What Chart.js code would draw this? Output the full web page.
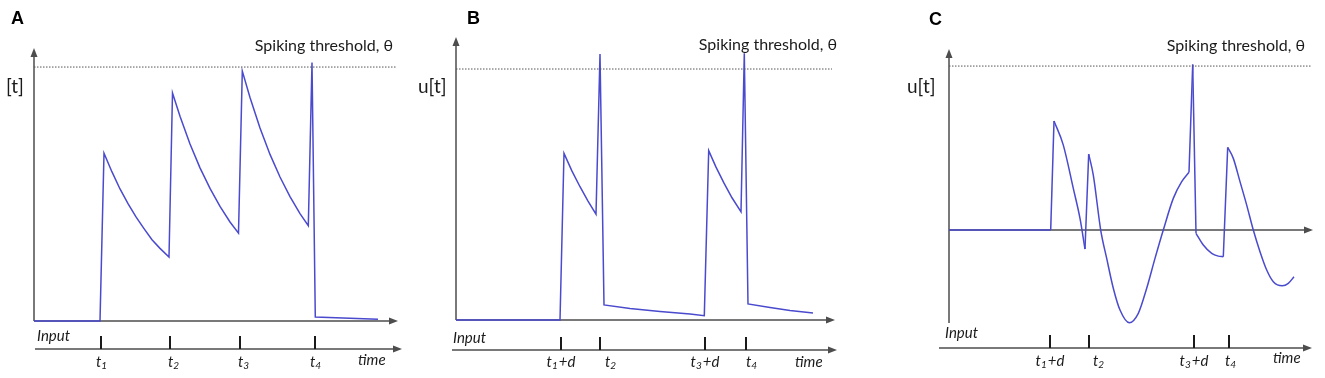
<!DOCTYPE html>
<html>
<head>
<meta charset="utf-8">
<script src="https://cdn.jsdelivr.net/npm/chart.js@4.4.1/dist/chart.umd.min.js"></script>
<style>
  html, body { margin: 0; padding: 0; background: #fff; }
  #wrap { position: relative; width: 1325px; height: 378px; overflow: hidden; }
  #wrap canvas { position: absolute; left: 0; top: 0; }
</style>
</head>
<body>
<div id="wrap">
  <canvas id="panelA" width="1325" height="378"></canvas>
  <canvas id="panelB" width="1325" height="378"></canvas>
  <canvas id="panelC" width="1325" height="378"></canvas>
</div>
<script>
// ---- data (time measured from the u axis, membrane potential u relative to threshold) ----
var threshold = 1;

// A: plain leaky integrate, four inputs
var timeA = [0, 66, 70, 78, 86, 94, 102, 110, 118, 126, 135,
             138.5, 146, 156, 166, 176, 186, 196, 204.5,
             208.3, 216, 226, 236, 246, 256, 266, 274.3,
             278, 281.3, 344];
var uA    = [0, 0, 0.661, 0.587, 0.52, 0.462, 0.41, 0.364, 0.32, 0.286, 0.252,
             0.898, 0.806, 0.697, 0.603, 0.522, 0.451, 0.39, 0.346,
             0.984, 0.88, 0.76, 0.656, 0.567, 0.49, 0.423, 0.375,
             1.018, 0.016, 0.007];
var tickTimesA  = [67, 136, 206, 281];
var tickLabelsA = ['t1', 't2', 't3', 't4'];

// B: delayed inputs
var timeB = [0, 104, 108, 116, 124, 132, 140, 144, 148, 174, 204, 234, 248.3,
             252.7, 260, 268, 276, 285, 288.3, 292, 314, 334, 357];
var uB    = [0, 0, 0.664, 0.593, 0.531, 0.474, 0.422, 1.06, 0.06, 0.046, 0.034, 0.024, 0.017,
             0.675, 0.609, 0.545, 0.487, 0.431, 1.063, 0.064, 0.05, 0.038, 0.028];
var tickTimesB  = [105, 144, 249, 290];
var tickLabelsB = ['t1+d', 't2', 't3+d', 't4'];

// C: resonating neuron
var timeC = [0, 101.7, 105, 114.3, 124.3, 131, 136,
             139.7, 144.3, 151.7, 157.7, 164.3, 171, 180.3, 189.3, 197.7, 206, 214.3, 224.3, 232.7, 240,
             243.7, 247, 254.3, 262.7, 269.3, 274.3,
             278.7, 284.3, 291, 297.7, 304.3, 311, 317.7, 324.3, 333.3, 339.3, 345];
var uC    = [0, 0, 0.665, 0.518, 0.254, 0.071, -0.116,
             0.463, 0.335, 0, -0.173, -0.355, -0.488, -0.565, -0.508, -0.355, -0.173, 0, 0.193, 0.295, 0.352,
             1.01, -0.02, -0.091, -0.142, -0.159, -0.163,
             0.504, 0.437, 0.295, 0.152, 0, -0.132, -0.244, -0.315, -0.34, -0.325, -0.285];
// indices where the trace jumps straight to the next point (input arrivals / spike)
var jumpsC = [1, 6, 20, 21, 26];
var tickTimesC  = [101, 140, 245, 280];
var tickLabelsC = ['t1+d', 't2', 't3+d', 't4'];

var TRACE = 'rgb(74,74,206)';
var AXIS = '#4d4d4d';
var INK = '#1a1a1a';
var FONT = 'Lato, "Open Sans", sans-serif';

function seg(ctx, x1, y1, x2, y2) {
  ctx.beginPath(); ctx.moveTo(x1, y1); ctx.lineTo(x2, y2); ctx.stroke();
}
function arrowRight(ctx, x, y) {
  ctx.beginPath(); ctx.moveTo(x, y); ctx.lineTo(x - 9, y - 3.5); ctx.lineTo(x - 9, y + 3.5); ctx.closePath(); ctx.fill();
}
function arrowUp(ctx, x, y) {
  ctx.beginPath(); ctx.moveTo(x, y); ctx.lineTo(x - 3.5, y + 9); ctx.lineTo(x + 3.5, y + 9); ctx.closePath(); ctx.fill();
}

// italic t with subscript index, e.g. "t3+d"
function tickText(ctx, label, cx, cy) {
  var head = label.charAt(0), sub = label.charAt(1), rest = label.slice(2);
  var big = 'italic 15px ' + FONT, small = 'italic 10px ' + FONT;
  ctx.font = big;  var w1 = ctx.measureText(head).width, w3 = ctx.measureText(rest).width;
  ctx.font = small; var w2 = ctx.measureText(sub).width + 1;
  var x = cx - (w1 + w2 + w3) / 2;
  ctx.textAlign = 'left'; ctx.textBaseline = 'middle';
  ctx.font = big;   ctx.fillText(head, x, cy);
  ctx.font = small; ctx.fillText(sub, x + w1, cy + 4);
  ctx.font = big;   ctx.fillText(rest, x + w1 + w2, cy);
}

// split a trace into straight jumps and smooth runs
function tracePieces(times, values, jumps) {
  var cuts = [0, times.length - 1];
  jumps.forEach(function(j) { cuts.push(j, j + 1); });
  cuts = cuts.filter(function(v, i, a) { return a.indexOf(v) === i; }).sort(function(a, b) { return a - b; });
  var pieces = [];
  for (var k = 0; k < cuts.length - 1; k++) {
    var pts = [];
    for (var i = cuts[k]; i <= cuts[k + 1]; i++) pts.push({ x: times[i], y: values[i] });
    pieces.push(pts);
  }
  return pieces;
}

function makePanel(id, times, values, jumps, ticks, labels, cfg) {
  var sketch = {
    id: 'sketch' + id,
    beforeDatasetsDraw: function(chart) {
      var ctx = chart.ctx, a = chart.chartArea;
      var xs = chart.scales.x, ys = chart.scales.y;
      var y0 = ys.getPixelForValue(0);
      ctx.save();
      ctx.strokeStyle = AXIS; ctx.fillStyle = AXIS; ctx.lineWidth = 1.5;
      seg(ctx, a.left, a.bottom, a.left, a.top + 6);
      arrowUp(ctx, a.left, a.top);
      seg(ctx, a.left, y0, a.right - 6, y0);
      arrowRight(ctx, a.right, y0);
      seg(ctx, cfg.inLeft, cfg.inY, cfg.inRight - 6, cfg.inY);
      arrowRight(ctx, cfg.inRight, cfg.inY);
      ctx.strokeStyle = '#1a1a1a'; ctx.lineWidth = 2;
      ticks.forEach(function(t) {
        var px = Math.round(xs.getPixelForValue(t));
        seg(ctx, px, cfg.inY - 13, px, cfg.inY);
      });
      ctx.restore();
    },
    afterDraw: function(chart) {
      var ctx = chart.ctx, xs = chart.scales.x;
      ctx.save();
      ctx.fillStyle = '#000';
      ctx.textBaseline = 'middle'; ctx.textAlign = 'left';
      ctx.font = 'bold 18px "Liberation Sans", Arial, sans-serif';
      ctx.fillText(id, cfg.letter[0], cfg.letter[1]);
      ctx.fillStyle = INK;
      ctx.font = '19px ' + FONT;
      ctx.fillText(cfg.yTitle, cfg.yTitlePos[0], cfg.yTitlePos[1]);
      ctx.font = '16px ' + FONT; ctx.textAlign = 'right';
      ctx.fillText('Spiking threshold, \u03b8', cfg.thrText[0], cfg.thrText[1]);
      ctx.textAlign = 'left'; ctx.font = 'italic 15px ' + FONT;
      ctx.fillText('Input', cfg.inputText[0], cfg.inputText[1]);
      ctx.fillText('time', cfg.timeText[0], cfg.timeText[1]);
      labels.forEach(function(lb, i) {
        tickText(ctx, lb, xs.getPixelForValue(ticks[i]) + cfg.labelShift[i], cfg.labelY);
      });
      ctx.restore();
    }
  };

  var datasets = [{
    data: [{ x: 0, y: threshold }, { x: cfg.thrEnd, y: threshold }],
    borderColor: '#555', borderWidth: 1, borderDash: [1.5, 1.5],
    pointRadius: 0, fill: false, clip: false
  }];
  tracePieces(times, values, jumps).forEach(function(pts) {
    datasets.push({
      data: pts,
      borderColor: TRACE, borderWidth: 1.5, borderJoinStyle: 'miter',
      pointRadius: 0, fill: false, clip: false,
      cubicInterpolationMode: cfg.smooth ? 'monotone' : 'default', tension: 0
    });
  });

  return new Chart(document.getElementById('panel' + id).getContext('2d'), {
    type: 'line',
    data: { datasets: datasets },
    options: {
      responsive: false, animation: false, events: [],
      layout: { padding: cfg.pad },
      scales: {
        x: { type: 'linear', min: 0, max: cfg.xMax, display: false },
        y: { type: 'linear', min: cfg.yMin, max: cfg.yMax, display: false }
      },
      plugins: { legend: { display: false }, tooltip: { enabled: false } }
    },
    plugins: [sketch]
  });
}

makePanel('A', timeA, uA, [], tickTimesA, tickLabelsA, {
  pad: { left: 34, right: 927, top: 48, bottom: 57 },
  xMax: 364, yMin: 0, yMax: 1.075, thrEnd: 362, smooth: false,
  inY: 349, inLeft: 35, inRight: 402,
  letter: [11, 19], yTitle: '[t]', yTitlePos: [6, 87],
  thrText: [393, 46], inputText: [37, 336], timeText: [358, 360],
  labelY: 362, labelShift: [1, 4, 4, 1]
});

makePanel('B', timeB, uB, [], tickTimesB, tickLabelsB, {
  pad: { left: 456, right: 490, top: 37, bottom: 58 },
  xMax: 379, yMin: 0, yMax: 1.1275, thrEnd: 376, smooth: false,
  inY: 350, inLeft: 452, inRight: 837,
  letter: [467, 19], yTitle: 'u[t]', yTitlePos: [418, 87],
  thrText: [837, 45], inputText: [453, 338], timeText: [795, 362],
  labelY: 362, labelShift: [0, 11, 0, 6]
});

makePanel('C', timeC, uC, jumpsC, tickTimesC, tickLabelsC, {
  pad: { left: 949, right: 12, top: 49, bottom: 55 },
  xMax: 364, yMin: -0.567, yMax: 1.104, thrEnd: 363, smooth: true,
  inY: 348, inLeft: 939, inRight: 1312,
  letter: [929, 20], yTitle: 'u[t]', yTitlePos: [907, 87],
  thrText: [1305, 46], inputText: [945, 333], timeText: [1273, 358],
  labelY: 361, labelShift: [0, 10, 0, 2]
});
</script>
</body>
</html>
